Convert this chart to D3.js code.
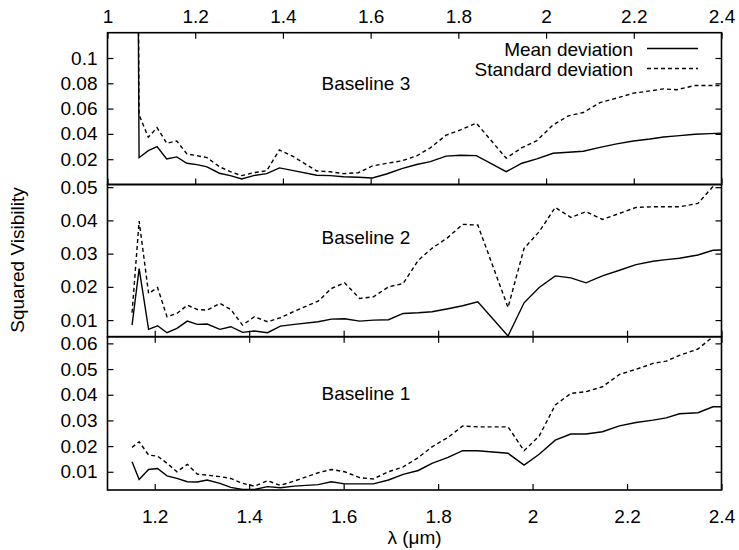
<!DOCTYPE html>
<html>
<head>
<meta charset="utf-8">
<script src="https://cdn.jsdelivr.net/npm/d3@7"></script>
<style>
  body { margin: 0; background: #fff; }
  svg text { font-family: "Liberation Sans", Arial, Helvetica, sans-serif; fill: #000; }
</style>
</head>
<body>
<div id="chart"></div>
<script>
// wavelength grids (um); the top panel is read against its own top axis
var lambdaLow = [1.152, 1.167, 1.187, 1.206, 1.226, 1.247, 1.269, 1.290, 1.311, 1.338, 1.361,
                 1.386, 1.411, 1.439, 1.466, 1.496, 1.546, 1.574, 1.602, 1.634, 1.663, 1.695,
                 1.726, 1.758, 1.787, 1.821, 1.852, 1.884, 1.948, 1.982, 2.014, 2.048, 2.081,
                 2.113, 2.148, 2.184, 2.219, 2.255, 2.283, 2.311, 2.350, 2.382, 2.400];
var lambdaTop = [1.056, 1.072, 1.093, 1.113, 1.135, 1.158, 1.181, 1.204, 1.227, 1.255, 1.280,
                 1.306, 1.333, 1.363, 1.392, 1.424, 1.477, 1.508, 1.538, 1.572, 1.604, 1.638,
                 1.671, 1.705, 1.736, 1.772, 1.805, 1.841, 1.909, 1.945, 1.979, 2.016, 2.051,
                 2.085, 2.123, 2.161, 2.199, 2.237, 2.268, 2.298, 2.340, 2.374, 2.400];

var b3Mean = [1.0, 0.0212, 0.0268, 0.030, 0.0202, 0.0218, 0.0168, 0.0157, 0.0139, 0.0089, 0.007,
              0.0044, 0.007, 0.0086, 0.0131, 0.011, 0.0073, 0.007, 0.0061, 0.0057, 0.0052, 0.0085,
              0.0125, 0.0158, 0.0181, 0.0224, 0.0231, 0.0228, 0.0101, 0.0168, 0.0202, 0.0247, 0.0255,
              0.0263, 0.0293, 0.0321, 0.0344, 0.0360, 0.0376, 0.0384, 0.0397, 0.0402, 0.0406];
var b3Std  = [1.0, 0.055, 0.0374, 0.045, 0.0326, 0.0344, 0.0242, 0.0228, 0.0212, 0.0141, 0.0101,
              0.007, 0.0093, 0.0109, 0.0273, 0.022, 0.0107, 0.0101, 0.0086, 0.0093, 0.0147, 0.0168,
              0.0187, 0.0226, 0.029, 0.039, 0.0432, 0.0485, 0.0208, 0.0291, 0.0347, 0.0471, 0.0543,
              0.0569, 0.0648, 0.0683, 0.0722, 0.074, 0.0756, 0.0749, 0.0783, 0.0783, 0.0783];

var b2Mean = [0.0085, 0.0255, 0.0072, 0.0083, 0.0062, 0.0075, 0.0097, 0.0087, 0.0088, 0.0072, 0.008,
              0.0063, 0.0067, 0.0062, 0.0082, 0.0087, 0.0095, 0.0103, 0.0104, 0.0097, 0.0100, 0.0101,
              0.012, 0.0122, 0.0125, 0.0134, 0.0143, 0.0155, 0.0052, 0.0152, 0.0198, 0.0233, 0.0227,
              0.0212, 0.0233, 0.025, 0.0267, 0.0277, 0.0282, 0.0286, 0.0296, 0.031, 0.0311];
var b2Std  = [0.0122, 0.0398, 0.018, 0.0198, 0.011, 0.012, 0.0145, 0.0132, 0.013, 0.015, 0.0132,
              0.0085, 0.011, 0.0095, 0.0107, 0.0127, 0.0157, 0.0195, 0.0212, 0.0165, 0.017, 0.020,
              0.021, 0.028, 0.0316, 0.0349, 0.0388, 0.0386, 0.0138, 0.0316, 0.0366, 0.0439, 0.0409,
              0.0426, 0.0403, 0.0421, 0.0439, 0.0441, 0.0441, 0.0441, 0.0451, 0.0502, 0.056];

var b1Mean = [0.0139, 0.007, 0.0109, 0.0113, 0.0084, 0.0074, 0.0061, 0.006, 0.0068, 0.0055, 0.0039,
              0.0031, 0.0031, 0.0042, 0.0038, 0.0044, 0.005, 0.0061, 0.0053, 0.0053, 0.0053, 0.0068,
              0.009, 0.0105, 0.0133, 0.0156, 0.0182, 0.0182, 0.0172, 0.0126, 0.0168, 0.0223, 0.0247,
              0.0247, 0.0256, 0.0279, 0.0292, 0.0301, 0.031, 0.0326, 0.033, 0.0353, 0.0353];
var b1Std  = [0.0195, 0.0217, 0.0165, 0.0161, 0.0133, 0.010, 0.0129, 0.0091, 0.0087, 0.0081, 0.0074,
              0.0055, 0.0044, 0.0065, 0.0047, 0.0064, 0.0096, 0.0109, 0.010, 0.0077, 0.0072, 0.010,
              0.0119, 0.0155, 0.0197, 0.0234, 0.0278, 0.0275, 0.0275, 0.0182, 0.0239, 0.036, 0.0405,
              0.0412, 0.0431, 0.0479, 0.0499, 0.0522, 0.0531, 0.0553, 0.0578, 0.0626, 0.066];

var xTicksTop = [1, 1.2, 1.4, 1.6, 1.8, 2, 2.2, 2.4];
var xTicksLow = [1.2, 1.4, 1.6, 1.8, 2, 2.2, 2.4];
var yTicks3 = [0.02, 0.04, 0.06, 0.08, 0.1];
var yTicks2 = [0.01, 0.02, 0.03, 0.04, 0.05];
var yTicks1 = [0.01, 0.02, 0.03, 0.04, 0.05, 0.06];

var width = 739, height = 550,
    left = 107.5, right = 721.5,
    fontSize = '19px';

var xTop = d3.scaleLinear().domain([1, 2.4]).range([left, right]);
var xLow = d3.scaleLinear().domain([1.1, 2.4]).range([left, right]);

var svg = d3.select('#chart').append('svg')
    .attr('width', width)
    .attr('height', height);

var panels = [
  { name: 'Baseline 3', top: 32.7, bottom: 184.5, domain: [0, 0.12], x: xTop, lambda: lambdaTop,
    mean: b3Mean, std: b3Std, yTicks: yTicks3, topTicks: true, labelY: 90 },
  { name: 'Baseline 2', top: 184.5, bottom: 336.7, domain: [0.005, 0.0508], x: xLow, lambda: lambdaLow,
    mean: b2Mean, std: b2Std, yTicks: yTicks2, topTicks: false, labelY: 243.5 },
  { name: 'Baseline 1', top: 336.7, bottom: 490, domain: [0.0029, 0.0626], x: xLow, lambda: lambdaLow,
    mean: b1Mean, std: b1Std, yTicks: yTicks1, topTicks: true, labelY: 400 }
];

function noDomain(g) { g.select('.domain').remove(); }

panels.forEach(function(p, i) {
  var y = d3.scaleLinear().domain(p.domain).range([p.bottom, p.top]);
  var x = p.x;
  var ticks = (x === xTop) ? xTicksTop : xTicksLow;

  svg.append('clipPath').attr('id', 'clip' + i)
    .append('rect')
      .attr('x', left).attr('y', p.top)
      .attr('width', right - left).attr('height', p.bottom - p.top);

  var line = d3.line()
      .x(function(d) { return x(d[0]); })
      .y(function(d) { return y(d[1]); });

  var g = svg.append('g').attr('clip-path', 'url(#clip' + i + ')');
  g.append('path')
      .datum(d3.zip(p.lambda, p.mean))
      .attr('d', line)
      .attr('fill', 'none')
      .attr('stroke', '#000')
      .attr('stroke-width', 1.4);
  g.append('path')
      .datum(d3.zip(p.lambda, p.std))
      .attr('d', line)
      .attr('fill', 'none')
      .attr('stroke', '#000')
      .attr('stroke-width', 1.4)
      .attr('stroke-dasharray', '4,3');

  // y ticks, left with labels and right mirrored
  svg.append('g')
      .attr('transform', 'translate(' + left + ',0)')
      .style('font-size', fontSize)
      .call(d3.axisLeft(y).tickValues(p.yTicks).tickSize(-6).tickPadding(10)
            .tickFormat(function(d) { return String(d); }))
      .call(noDomain);
  svg.append('g')
      .attr('transform', 'translate(' + right + ',0)')
      .call(d3.axisRight(y).tickValues(p.yTicks).tickSize(-6).tickFormat(''))
      .call(noDomain);

  // x ticks
  svg.append('g')
      .attr('transform', 'translate(0,' + p.bottom + ')')
      .style('font-size', fontSize)
      .call(d3.axisBottom(x).tickValues(ticks).tickSize(-6).tickPadding(20)
            .tickFormat(i === 2 ? function(d) { return String(d); } : ''))
      .call(noDomain);
  if (p.topTicks) {
    svg.append('g')
        .attr('transform', 'translate(0,' + p.top + ')')
        .style('font-size', fontSize)
        .call(d3.axisTop(x).tickValues(ticks).tickSize(-6).tickPadding(10)
              .tickFormat(i === 0 ? function(d) { return String(d); } : ''))
        .call(noDomain);
  }

  svg.selectAll('.tick line').attr('stroke-width', 1.2);

  svg.append('rect')
      .attr('x', left).attr('y', p.top)
      .attr('width', right - left).attr('height', p.bottom - p.top)
      .attr('fill', 'none')
      .attr('stroke', '#000')
      .attr('stroke-width', 1.6);

  svg.append('text')
      .attr('x', 321.5).attr('y', p.labelY)
      .style('font-size', fontSize)
      .text(p.name);
});

// legend
var legend = [
  { label: 'Mean deviation', y: 56, dash: null },
  { label: 'Standard deviation', y: 76, dash: '4,3' }
];
legend.forEach(function(d) {
  svg.append('text')
      .attr('x', 633).attr('y', d.y)
      .attr('text-anchor', 'end')
      .style('font-size', fontSize)
      .text(d.label);
  svg.append('line')
      .attr('x1', 647).attr('x2', 698)
      .attr('y1', d.y - 7.5).attr('y2', d.y - 7.5)
      .attr('stroke', '#000')
      .attr('stroke-width', 1.4)
      .attr('stroke-dasharray', d.dash);
});

// axis titles
svg.append('text')
    .attr('x', 414.5).attr('y', 544)
    .attr('text-anchor', 'middle')
    .style('font-size', fontSize)
    .text('λ (μm)');

svg.append('text')
    .attr('transform', 'translate(23.5,260) rotate(-90)')
    .attr('text-anchor', 'middle')
    .style('font-size', fontSize)
    .text('Squared Visibility');
</script>
</body>
</html>
